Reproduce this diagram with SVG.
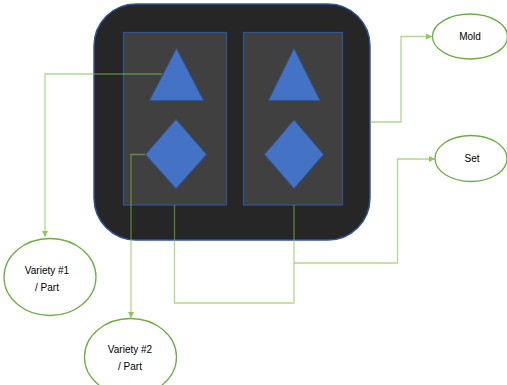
<svg xmlns="http://www.w3.org/2000/svg" width="507" height="385" viewBox="0 0 507 385">
<style>
.frame{fill:#262626;stroke:#2F5597;stroke-width:1.5}
.slot{fill:#404040;stroke:#2F5597;stroke-width:1.2}
.shape{fill:#4472C4;stroke:#2F5597;stroke-width:1}
.ell{fill:#ffffff;stroke:#70AD47;stroke-width:1.3}
.conn{fill:none;stroke:#7CC043;stroke-opacity:0.6;stroke-width:1.3}
.lbl{font-family:"Liberation Sans",Arial,sans-serif;font-size:10px;fill:#000;text-anchor:middle}
</style>
<defs>
<marker id="arr" viewBox="0 0 10 10" refX="10" refY="5" markerWidth="6" markerHeight="6" orient="auto" markerUnits="userSpaceOnUse">
<path d="M0,0 L10,5 L0,10 z" fill="#8CC85A"/>
</marker>
</defs>
<rect width="507" height="385" fill="#ffffff"/>
<g id="frame">
<rect class="frame" x="94" y="4" width="276" height="236" rx="42" ry="42"/>
</g>
<g id="slot-left">
<rect class="slot" x="123.5" y="32.5" width="103" height="172.5"/>
<polygon class="shape" points="176.5,48.5 203.5,100.5 149.5,100.5"/>
<polygon class="shape" points="176,119.5 206.5,154.5 176,188.5 145.5,154.5"/>
</g>
<g id="slot-right">
<rect class="slot" x="243.5" y="32.5" width="99" height="172.5"/>
<polygon class="shape" points="294,48.5 320,100.5 268.5,100.5"/>
<polygon class="shape" points="294,120 323.5,154.5 294,188.5 264.5,154.5"/>
</g>
<g id="connectors">
<polyline class="conn" points="162,74 45,74 45,237" marker-end="url(#arr)"/>
<polyline class="conn" points="145,154.5 131,154.5 131,318" marker-end="url(#arr)"/>
<polyline class="conn" points="174.5,205 174.5,303 294,303 294,205"/>
<polyline class="conn" points="294,263 397.5,263 397.5,159 435,159" marker-end="url(#arr)"/>
<polyline class="conn" points="370,122 401,122 401,36.5 432,36.5" marker-end="url(#arr)"/>
</g>
<g id="mold">
<ellipse class="ell" cx="470" cy="36.5" rx="37.5" ry="22.5"/>
<text class="lbl" x="470" y="40">Mold</text>
</g>
<g id="set">
<ellipse class="ell" cx="471" cy="158.5" rx="36" ry="23"/>
<text class="lbl" x="472" y="162">Set</text>
</g>
<g id="variety1">
<ellipse class="ell" cx="50" cy="277" rx="46" ry="38.5"/>
<text class="lbl" x="47" y="274">Variety #1</text>
<text class="lbl" x="47" y="291">/ Part</text>
</g>
<g id="variety2">
<ellipse class="ell" cx="130.5" cy="357" rx="46" ry="38.5"/>
<text class="lbl" x="130" y="353">Variety #2</text>
<text class="lbl" x="130" y="370">/ Part</text>
</g>
</svg>
